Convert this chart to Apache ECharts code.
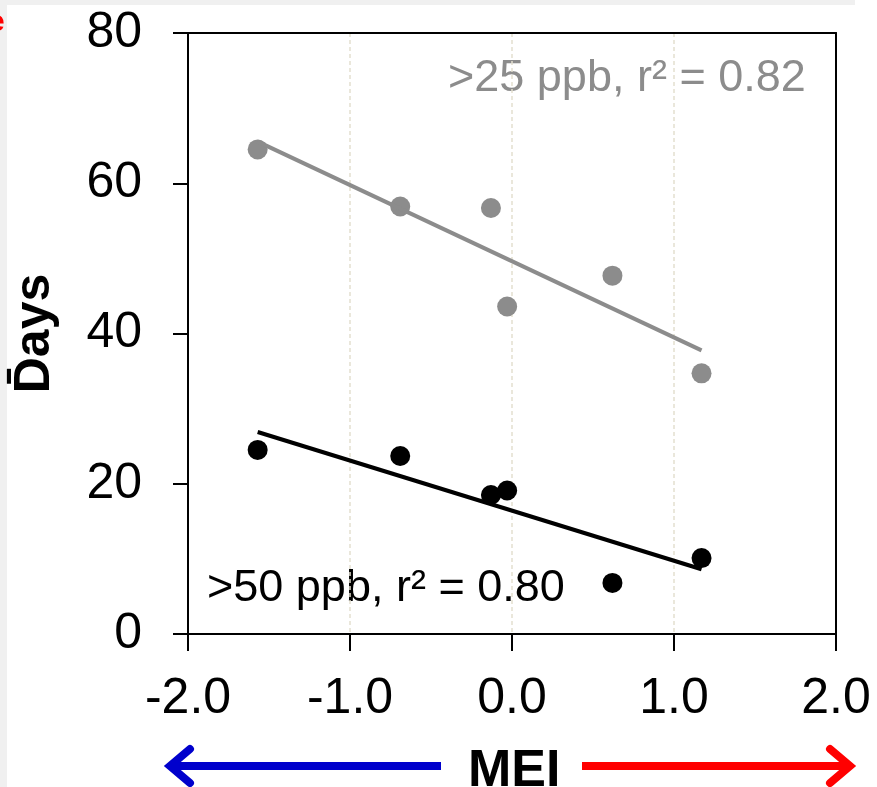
<!DOCTYPE html>
<html>
<head>
<meta charset="utf-8">
<script src="https://cdn.jsdelivr.net/npm/echarts@6/dist/echarts.min.js"></script>
<style>
  html, body { margin: 0; padding: 0; background: #fff; }
  #chart { width: 877px; height: 787px; }
</style>
</head>
<body>
<div id="chart"></div>
<script>
// MEI index per year and days above threshold
const meiValues = [-1.57, -0.69, -0.13, -0.03, 0.62, 1.17];
const days25 = [64.5, 56.9, 56.7, 43.6, 47.7, 34.7];
const days50 = [24.5, 23.7, 18.5, 19.1, 6.8, 10.1];
const xTicks = [-2, -1, 0, 1, 2];
const yTicks = [0, 20, 40, 60, 80];
const label25 = '>25 ppb, r\u00B2 = 0.82';
const label50 = '>50 ppb, r\u00B2 = 0.80';

const FONT = 'Liberation Sans, Arial, sans-serif';
const GRAY = '#8c8c8c';

// least squares fit, drawn between min and max x
const fitLine = (xs, ys) => {
  const n = xs.length;
  const mx = xs.reduce((a, b) => a + b, 0) / n;
  const my = ys.reduce((a, b) => a + b, 0) / n;
  let sxy = 0, sxx = 0;
  xs.forEach((x, i) => { sxy += (x - mx) * (ys[i] - my); sxx += (x - mx) * (x - mx); });
  const k = sxy / sxx;
  const x0 = Math.min(...xs), x1 = Math.max(...xs);
  return [[x0, my + k * (x0 - mx)], [x1, my + k * (x1 - mx)]];
};

const chart = echarts.init(document.getElementById('chart'));

// frame-only axis for the top and right edges
const frameAxis = {
  type: 'value',
  axisLine: { show: true, onZero: false, lineStyle: { color: '#000', width: 2 } },
  axisTick: { show: false }, axisLabel: { show: false }, splitLine: { show: false }
};

const arrowY = 766;
chart.setOption({
  backgroundColor: '#fff',
  animation: false,
  grid: { left: 188, right: 41, top: 33, bottom: 153 },
  xAxis: [{
    type: 'value', min: xTicks[0], max: xTicks[xTicks.length - 1], interval: 1,
    axisLine: { onZero: false, lineStyle: { color: '#000', width: 2 } },
    axisTick: { length: 17, lineStyle: { color: '#000', width: 2 } },
    axisLabel: { fontFamily: FONT, fontSize: 50, color: '#000', margin: 40, formatter: v => v.toFixed(1) },
    splitLine: { show: true, lineStyle: { color: '#e3dfcf', type: [4, 3], width: 1.5 } }
  }, { ...frameAxis, position: 'top', min: xTicks[0], max: xTicks[xTicks.length - 1] }],
  yAxis: [{
    type: 'value', min: yTicks[0], max: yTicks[yTicks.length - 1], interval: 20,
    name: 'D\u0304ays', nameLocation: 'middle', nameGap: 128,
    nameTextStyle: { fontFamily: FONT, fontSize: 50, fontWeight: 'bold', color: '#000' },
    axisLine: { onZero: false, lineStyle: { color: '#000', width: 2 } },
    axisTick: { length: 15, lineStyle: { color: '#000', width: 2 } },
    axisLabel: { fontFamily: FONT, fontSize: 50, color: '#000', margin: 46 },
    splitLine: { show: false }
  }, { ...frameAxis, position: 'right', min: yTicks[0], max: yTicks[yTicks.length - 1] }],
  series: [
    { type: 'scatter', symbolSize: 20, itemStyle: { color: GRAY, opacity: 1 }, data: meiValues.map((x, i) => [x, days25[i]]) },
    { type: 'scatter', symbolSize: 20, itemStyle: { color: '#000', opacity: 1 }, data: meiValues.map((x, i) => [x, days50[i]]) },
    { type: 'line', showSymbol: false, lineStyle: { color: GRAY, width: 4 }, data: fitLine(meiValues, days25) },
    { type: 'line', showSymbol: false, lineStyle: { color: '#000', width: 4 }, data: fitLine(meiValues, days50) }
  ],
  graphic: [
    { type: 'rect', shape: { x: 0, y: 0, width: 7, height: 787 }, style: { fill: '#f0f0f0' }, z: 0 },
    { type: 'rect', shape: { x: 0, y: 0, width: 855, height: 5 }, style: { fill: '#f0f0f0' }, z: 0 },
    { type: 'text', left: -12, top: 8, style: { text: 'e', fill: '#ff0000', font: 'bold 30px ' + FONT } },
    { type: 'text', left: 448, top: 56, style: { text: label25, fill: GRAY, font: '45px ' + FONT } },
    { type: 'text', left: 207, top: 566, style: { text: label50, fill: '#000', font: '45px ' + FONT } },
    { type: 'text', left: 468, top: 746, style: { text: 'MEI', fill: '#000', font: 'bold 52px ' + FONT } },
    { type: 'polyline', shape: { points: [[441, arrowY], [175, arrowY]] }, style: { stroke: '#0000cc', lineWidth: 8, fill: null } },
    { type: 'polyline', shape: { points: [[190, arrowY - 17], [170, arrowY], [190, arrowY + 17]] }, style: { stroke: '#0000cc', lineWidth: 8, lineCap: 'round', lineJoin: 'miter', fill: null } },
    { type: 'polyline', shape: { points: [[582, arrowY], [845, arrowY]] }, style: { stroke: '#ff0000', lineWidth: 8, fill: null } },
    { type: 'polyline', shape: { points: [[830, arrowY - 17], [850, arrowY], [830, arrowY + 17]] }, style: { stroke: '#ff0000', lineWidth: 8, lineCap: 'round', lineJoin: 'miter', fill: null } }
  ]
});
</script>
</body>
</html>
